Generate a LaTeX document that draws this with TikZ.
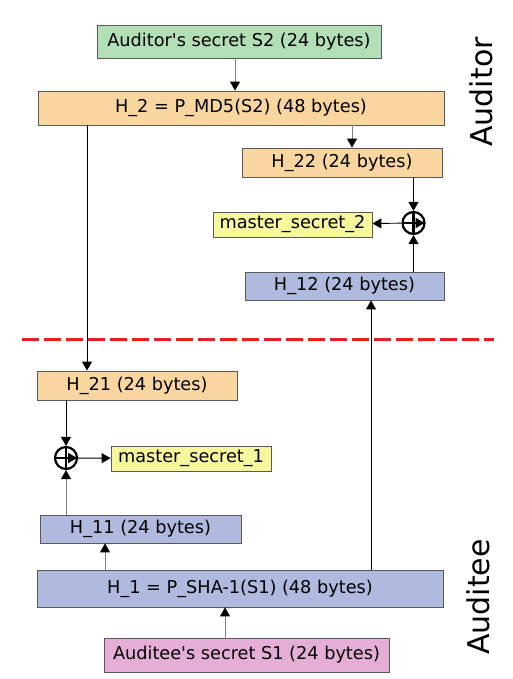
\documentclass[tikz,border=0pt]{standalone}
\usepackage{fontspec}
\setmainfont{DejaVu Sans}[Ligatures=TeXOff]
\usetikzlibrary{arrows.meta}

\definecolor{secretgreen}{RGB}{179,223,183}
\definecolor{hashorange}{RGB}{249,214,160}
\definecolor{hashblue}{RGB}{176,186,222}
\definecolor{secretpink}{RGB}{229,174,214}
\definecolor{msyellow}{RGB}{247,247,158}
\definecolor{cutred}{RGB}{235,30,30}

\tikzset{
  box/.style={draw=black!65, line width=0.8pt, inner sep=0pt,
              font=\fontsize{17.7}{20}\selectfont},
  xorop/.style={circle, draw, line width=2.2pt, minimum size=22pt, inner sep=0pt,
                path picture={\draw[line width=2.2pt]
                  (path picture bounding box.north) -- (path picture bounding box.south)
                  (path picture bounding box.west) -- (path picture bounding box.east);}},
  link/.style={black, line width=0.9pt},
  faint/.style={black!50, line width=0.9pt, -{Triangle[length=9pt,width=10pt,color=black]}},
  side/.style={rotate=90, font=\fontsize{30}{34}\selectfont}
}

\begin{document}
\begin{tikzpicture}[x=1pt, y=-1pt, ->, >={Triangle[length=9pt,width=10pt]}]
  \useasboundingbox (0,0) rectangle (513,679);

  \node[box,fill=secretgreen,minimum width=284pt,minimum height=33pt] (S2)  at (239,41.5)   {Auditor's secret S2 (24 bytes)};
  \node[box,fill=hashorange, minimum width=406pt,minimum height=34pt] (H2)  at (241,108)    {H\_2 = P\_MD5(S2) (48 bytes)};
  \node[box,fill=hashorange, minimum width=200pt,minimum height=29pt] (H22) at (342,162.5)  {H\_22 (24 bytes)};
  \node[xorop]                                                        (X2)  at (413.5,223)  {};
  \node[box,fill=msyellow,   minimum width=159pt,minimum height=25pt] (MS2) at (292.5,224.5) {master\_secret\_2};
  \node[box,fill=hashblue,   minimum width=199pt,minimum height=28pt] (H12) at (344.5,286)  {H\_12 (24 bytes)};
  \node[box,fill=hashorange, minimum width=200pt,minimum height=29pt] (H21) at (137,385.5)  {H\_21 (24 bytes)};
  \node[xorop]                                                        (X1)  at (66,458)     {};
  \node[box,fill=msyellow,   minimum width=160pt,minimum height=25pt] (MS1) at (191,458.5)  {master\_secret\_1};
  \node[box,fill=hashblue,   minimum width=201pt,minimum height=28pt] (H11) at (140.5,529)  {H\_11 (24 bytes)};
  \node[box,fill=hashblue,   minimum width=406pt,minimum height=37pt] (H1)  at (240,588.5)  {H\_1 = P\_SHA-1(S1) (48 bytes)};
  \node[box,fill=secretpink, minimum width=285pt,minimum height=34pt] (S1)  at (246.5,655)  {Auditee's secret S1 (24 bytes)};

  \node[side] (auditor) at (481,92)  {Auditor};
  \node[side] (auditee) at (478,597) {Auditee};

  % trust boundary
  \coordinate (cutL) at (22,339);
  \coordinate (cutR) at (494,339);
  \draw[-, cutred, line width=3pt, dash pattern=on 17pt off 5pt] (cutL) -- (cutR);

  \path (S2.south -| 235,0)  edge [faint] (H2.north -| 235,0)
        (H2.south -| 352,0)  edge [faint] (H22.north -| 352,0)
        (H2.south -| 87,0)   edge [link]  (H21.north -| 87,0)
        (H22.south -| X2)    edge [link]  (X2)
        (H12.north -| X2)    edge [link]  (X2)
        (X2)                 edge [link]  (MS2)
        (H21.south -| X1)    edge [link]  (X1)
        (H11.north -| X1)    edge [faint] (X1)
        (X1)                 edge [link]  (MS1)
        (H1.north -| 105,0)  edge [faint] (H11.south -| 105,0)
        (H1.north -| 371,0)  edge [link]  (H12.south -| 371,0)
        (S1.north -| 225,0)  edge [faint] (H1.south -| 225,0)
        ;
\end{tikzpicture}
\end{document}
